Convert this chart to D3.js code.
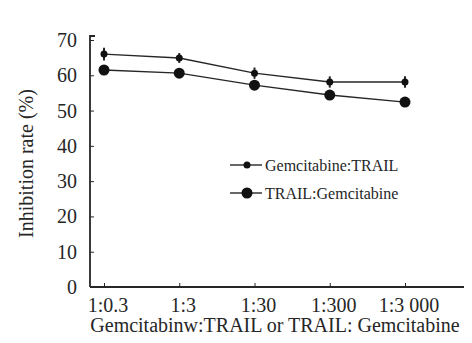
<!DOCTYPE html>
<html>
<head>
<meta charset="utf-8">
<script src="https://cdn.jsdelivr.net/npm/d3@7"></script>
<style>
  body { margin: 0; background: #fff; }
  svg { display: block; font-family: 'Liberation Serif', 'Times New Roman', serif; }
</style>
</head>
<body>
<svg id="chart" width="472" height="343"></svg>
<script>
const ratios = ['1:0.3', '1:3', '1:30', '1:300', '1:3 000'];
const gemTrail = [66.0, 64.9, 60.6, 58.1, 58.1];
const gemTrailErr = [1.8, 1.4, 1.6, 1.6, 1.6];
const trailGem = [61.5, 60.6, 57.2, 54.4, 52.4];
const trailGemErr = [1.2, 1.2, 1.2, 1.2, 1.0];
const yTicks = [0, 10, 20, 30, 40, 50, 60, 70];
const seriesNames = ['Gemcitabine:TRAIL', 'TRAIL:Gemcitabine'];

const ink = '#262626';
const svg = d3.select('#chart');

const x = d3.scalePoint().domain(ratios).range([104, 405]);
const y = d3.scaleLinear().domain([0, 70]).range([287, 40]);

// axes
const yAxis = svg.append('g')
    .attr('transform', 'translate(90,0)')
    .call(d3.axisRight(y).tickValues(yTicks).tickSize(4).tickFormat(''));
yAxis.select('.domain').attr('d', `M5,${y(70) - 4}H0V${y(0)}`);

const xAxis = svg.append('g')
    .attr('transform', `translate(0,${y(0)})`)
    .call(d3.axisTop(x).tickSize(4).tickFormat(''));
xAxis.select('.domain').attr('d', 'M90,0H464');

svg.selectAll('.domain').attr('stroke', ink).attr('stroke-width', 1.8);
svg.selectAll('.tick line').attr('stroke', ink).attr('stroke-width', 1);

// tick labels
svg.append('g').selectAll('text')
    .data(yTicks)
    .enter()
    .append('text')
        .attr('x', 77)
        .attr('y', d => y(d))
        .attr('dy', '0.35em')
        .attr('text-anchor', 'end')
        .attr('fill', ink)
        .style('font-size', '20px')
        .text(d => d);

svg.append('g').selectAll('text')
    .data(ratios)
    .enter()
    .append('text')
        .attr('x', d => x(d) + 4)
        .attr('y', 312)
        .attr('text-anchor', 'middle')
        .attr('fill', ink)
        .style('font-size', '20px')
        .text(d => d);

// axis titles
svg.append('text')
    .attr('transform', `translate(33,${(y(0) + y(70)) / 2}) rotate(-90)`)
    .attr('text-anchor', 'middle')
    .attr('fill', ink)
    .style('font-size', '20px')
    .text('Inhibition rate (%)');

svg.append('text')
    .attr('x', 275)
    .attr('y', 332)
    .attr('text-anchor', 'middle')
    .attr('fill', ink)
    .style('font-size', '20px')
    .text('Gemcitabinw:TRAIL or TRAIL: Gemcitabine');

// series
const line = d3.line().x((d, i) => x(ratios[i])).y(d => y(d));
const series = [
    { values: gemTrail, err: gemTrailErr, r: 3.5 },
    { values: trailGem, err: trailGemErr, r: 5.5 }
];

series.forEach(s => {
    svg.append('path')
        .datum(s.values)
        .attr('d', line)
        .attr('fill', 'none')
        .attr('stroke', ink)
        .attr('stroke-width', 1.4);

    const g = svg.append('g');
    g.selectAll('line.err')
        .data(s.values)
        .enter()
        .append('line')
            .attr('x1', (d, i) => x(ratios[i]))
            .attr('x2', (d, i) => x(ratios[i]))
            .attr('y1', (d, i) => y(d + s.err[i]))
            .attr('y2', (d, i) => y(d - s.err[i]))
            .attr('stroke', ink)
            .attr('stroke-width', 2);
    g.selectAll('circle')
        .data(s.values)
        .enter()
        .append('circle')
            .attr('cx', (d, i) => x(ratios[i]))
            .attr('cy', d => y(d))
            .attr('r', s.r)
            .attr('fill', '#111');
});

// legend
const legend = svg.append('g');
seriesNames.forEach((name, i) => {
    const ly = 165 + i * 28;
    legend.append('line')
        .attr('x1', 230).attr('x2', 262)
        .attr('y1', ly).attr('y2', ly)
        .attr('stroke', ink).attr('stroke-width', 1.4);
    legend.append('circle')
        .attr('cx', 247).attr('cy', ly)
        .attr('r', series[i].r)
        .attr('fill', '#111');
    legend.append('text')
        .attr('x', 265).attr('y', ly)
        .attr('dy', '0.35em')
        .attr('fill', ink)
        .style('font-size', '16px')
        .text(name);
});
</script>
</body>
</html>
